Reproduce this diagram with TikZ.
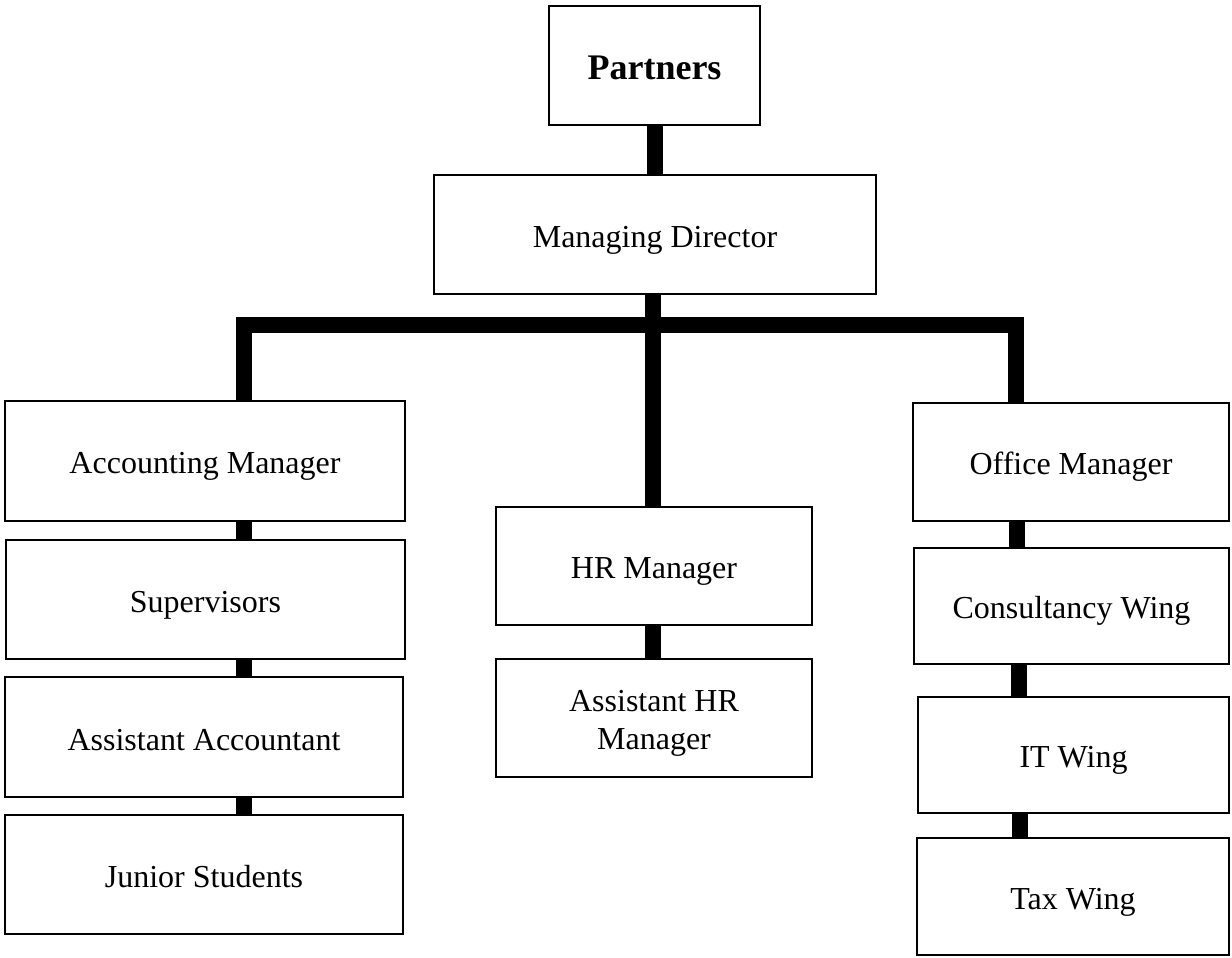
\documentclass[tikz,border=0pt]{standalone}
\usepackage{fontspec}
\setmainfont{Liberation Serif}
% struts that fix the baseline of every label line
\newcommand\lstrut{\rule[-6pt]{0pt}{38pt}}
\newcommand\pstrut{\rule[-6pt]{0pt}{40pt}}
\begin{document}
\begin{tikzpicture}[x=1pt,y=-1pt,
  box/.style={draw=black, line width=2pt, fill=white, inner sep=0pt, align=center,
              font=\fontsize{32pt}{38pt}\selectfont},
  link/.style={draw=black, line width=16pt, line join=miter, line cap=butt}]
\useasboundingbox (0,0) rectangle (1232,958);

% top of the chart
\node[box, minimum width=211pt, minimum height=119pt,
      font=\fontsize{36pt}{42pt}\selectfont\bfseries] (P) at (654.5,65.5) {\pstrut Partners};
\node[box, minimum width=442pt, minimum height=119pt] (MD) at (655,234.5) {\lstrut Managing Director};

% accounting column
\node[box, minimum width=400pt, minimum height=120pt] (AM)  at (205,461)   {\lstrut Accounting Manager};
\node[box, minimum width=399pt, minimum height=119pt] (SUP) at (205.5,599.5) {\lstrut Supervisors};
\node[box, minimum width=398pt, minimum height=120pt] (AA)  at (204,737)   {\lstrut Assistant Accountant};
\node[box, minimum width=398pt, minimum height=119pt] (JS)  at (204,874.5) {\lstrut Junior Students};

% HR column
\node[box, minimum width=316pt, minimum height=118pt] (HR)  at (654,566) {\lstrut HR Manager};
\node[box, minimum width=316pt, minimum height=118pt] (AHR) at (654,718) {\lstrut Assistant HR\\Manager\lstrut};

% office column
\node[box, minimum width=316pt, minimum height=118pt] (OM)  at (1071,462)   {\lstrut Office Manager};
\node[box, minimum width=315pt, minimum height=116pt] (CW)  at (1071.5,606) {\lstrut Consultancy Wing};
\node[box, minimum width=311pt, minimum height=116pt] (IT)  at (1073.5,755) {\lstrut IT Wing};
\node[box, minimum width=312pt, minimum height=117pt] (TAX) at (1073,896.5) {\lstrut Tax Wing};

% connector columns and the cross bar
\coordinate (lx) at (243.5,325);
\coordinate (tx) at (652.5,325);
\coordinate (rx) at (1016,325);
\coordinate (r1) at (1017,0);
\coordinate (r2) at (1019,0);
\coordinate (r3) at (1020,0);

\draw[link] (P.south) -- (P.south |- MD.north);
\draw[link] (AM.north -| lx) -- (lx) -- (rx) -- (OM.north -| rx);
\draw[link] (MD.south -| tx) -- (HR.north -| tx);

\draw[link] (AM.south -| lx)  -- (SUP.north -| lx);
\draw[link] (SUP.south -| lx) -- (AA.north -| lx);
\draw[link] (AA.south -| lx)  -- (JS.north -| lx);

\draw[link] (HR.south -| tx) -- (AHR.north -| tx);

\draw[link] (OM.south -| r1) -- (CW.north -| r1);
\draw[link] (CW.south -| r2) -- (IT.north -| r2);
\draw[link] (IT.south -| r3) -- (TAX.north -| r3);
\end{tikzpicture}
\end{document}
